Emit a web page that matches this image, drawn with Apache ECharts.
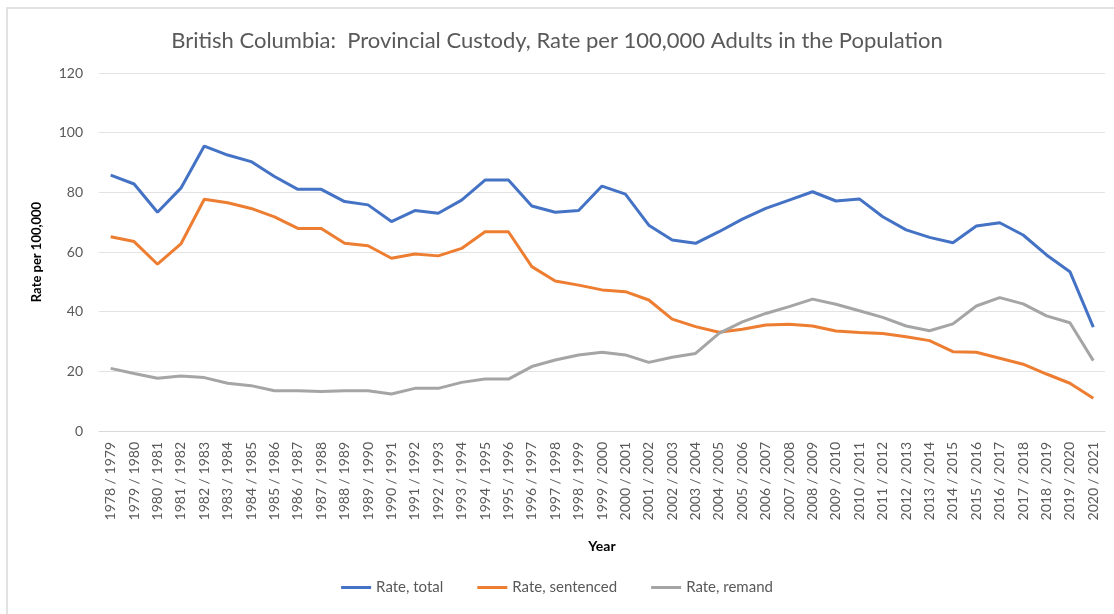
<!DOCTYPE html>
<html>
<head>
<meta charset="utf-8">
<script src="https://cdn.jsdelivr.net/npm/echarts@6/dist/echarts.min.js"></script>
<style>
  html, body { margin: 0; padding: 0; background: #fff; }
  #chart { width: 1114px; height: 614px; }
</style>
</head>
<body>
<div id="chart"></div>
<script>
const years = [
  "1978 / 1979", "1979 / 1980", "1980 / 1981", "1981 / 1982", "1982 / 1983", "1983 / 1984",
  "1984 / 1985", "1985 / 1986", "1986 / 1987", "1987 / 1988", "1988 / 1989", "1989 / 1990",
  "1990 / 1991", "1991 / 1992", "1992 / 1993", "1993 / 1994", "1994 / 1995", "1995 / 1996",
  "1996 / 1997", "1997 / 1998", "1998 / 1999", "1999 / 2000", "2000 / 2001", "2001 / 2002",
  "2002 / 2003", "2003 / 2004", "2004 / 2005", "2005 / 2006", "2006 / 2007", "2007 / 2008",
  "2008 / 2009", "2009 / 2010", "2010 / 2011", "2011 / 2012", "2012 / 2013", "2013 / 2014",
  "2014 / 2015", "2015 / 2016", "2016 / 2017", "2017 / 2018", "2018 / 2019", "2019 / 2020",
  "2020 / 2021"
];

const rateTotal = [
  85.8, 82.8, 73.3, 81.4, 95.5, 92.5, 90.3, 85.3, 81.0, 81.0, 76.9, 75.8,
  70.2, 73.9, 73.0, 77.4, 84.1, 84.1, 75.4, 73.3, 73.9, 82.1, 79.4, 69.0,
  64.0, 62.9, 66.8, 71.0, 74.6, 77.4, 80.2, 77.1, 77.8, 71.8, 67.4, 64.9,
  63.1, 68.7, 69.8, 65.7, 59.0, 53.4, 34.8
];

const rateSentenced = [
  65.1, 63.5, 55.9, 62.7, 77.7, 76.5, 74.6, 71.8, 67.9, 67.9, 62.9, 62.1,
  57.9, 59.3, 58.7, 61.2, 66.8, 66.8, 55.1, 50.3, 48.9, 47.3, 46.7, 43.9,
  37.5, 35.0, 33.1, 34.1, 35.5, 35.8, 35.2, 33.5, 33.0, 32.7, 31.6, 30.3,
  26.6, 26.4, 24.4, 22.4, 19.1, 16.0, 11.0
];

const rateRemand = [
  21.0, 19.3, 17.7, 18.4, 17.9, 16.0, 15.2, 13.5, 13.5, 13.2, 13.5, 13.5,
  12.4, 14.3, 14.3, 16.3, 17.4, 17.4, 21.6, 23.8, 25.5, 26.4, 25.5, 23.0,
  24.7, 26.0, 32.7, 36.6, 39.4, 41.7, 44.2, 42.5, 40.3, 38.1, 35.2, 33.6,
  35.9, 41.9, 44.7, 42.6, 38.6, 36.3, 23.6
];

const font = "Lato, 'Open Sans', sans-serif";
const chart = echarts.init(document.getElementById("chart"));

chart.setOption({
  animation: false,
  textStyle: { fontFamily: font },
  graphic: [
    {
      type: "rect",
      shape: { x: 7, y: 8, width: 1120, height: 620 },
      style: { fill: "none", stroke: "#d9d9d9", lineWidth: 1.5 },
      silent: true,
    }
  ],
  title: {
    text: "British Columbia:  Provincial Custody, Rate per 100,000 Adults in the Population",
    left: "center",
    top: 25,
    textStyle: { fontFamily: font, fontSize: 22, fontWeight: "normal", color: "#595959" },
  },
  legend: {
    bottom: 14,
    left: "center",
    itemWidth: 30,
    itemHeight: 3,
    itemGap: 34,
    icon: "rect",
    textStyle: { fontFamily: font, fontSize: 15, color: "#595959" },
    data: ["Rate, total", "Rate, sentenced", "Rate, remand"],
  },
  grid: { left: 99, right: 9, top: 73, bottom: 183, containLabel: false },
  xAxis: {
    type: "category",
    data: years,
    boundaryGap: true,
    name: "Year",
    nameLocation: "middle",
    nameGap: 108,
    nameTextStyle: { fontFamily: font, fontSize: 14, fontWeight: "bold", color: "#000" },
    axisLine: { lineStyle: { color: "#d9d9d9" } },
    axisTick: { show: false },
    axisLabel: { interval: 0, rotate: 90, fontSize: 14, color: "#595959", margin: 11 },
  },
  yAxis: {
    type: "value",
    min: 0,
    max: 120,
    interval: 20,
    name: "Rate per 100,000",
    nameLocation: "middle",
    nameGap: 56,
    nameTextStyle: { fontFamily: font, fontSize: 13, fontWeight: "bold", color: "#000" },
    axisLine: { show: false },
    axisTick: { show: false },
    axisLabel: { fontSize: 14, color: "#595959", margin: 16 },
    splitLine: { lineStyle: { color: "#e3e3e3" } },
  },
  series: [
    {
      name: "Rate, total",
      type: "line",
      data: rateTotal,
      showSymbol: false,
      color: "#4472C4",
      lineStyle: { width: 3, color: "#4472C4" },
    },
    {
      name: "Rate, sentenced",
      type: "line",
      data: rateSentenced,
      showSymbol: false,
      color: "#ED7D31",
      lineStyle: { width: 3, color: "#ED7D31" },
    },
    {
      name: "Rate, remand",
      type: "line",
      data: rateRemand,
      showSymbol: false,
      color: "#A5A5A5",
      lineStyle: { width: 3, color: "#A5A5A5" },
    }
  ],
});

window.addEventListener("resize", () => {
  chart.resize();
});
</script>
</body>
</html>
